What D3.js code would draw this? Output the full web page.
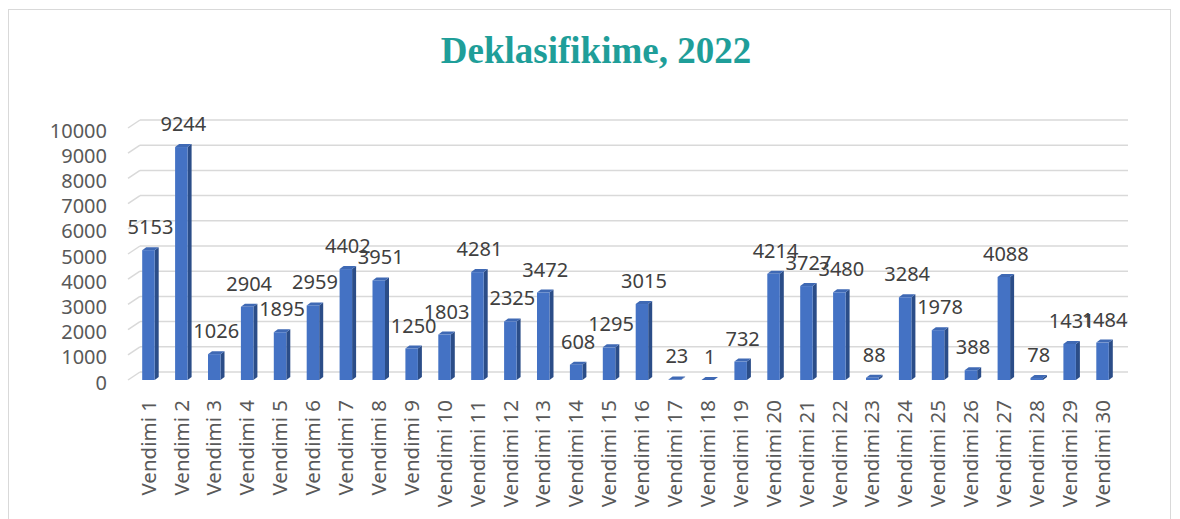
<!DOCTYPE html>
<html>
<head>
<meta charset="utf-8">
<script src="https://cdn.jsdelivr.net/npm/d3@7"></script>
<style>
  body { margin: 0; background: #fff; }
</style>
</head>
<body>
<div id="grafico"></div>
<script>
// Dados do grafico
const title = "Deklasifikime, 2022";
const categories = d3.range(1, 31).map(i => "Vendimi " + i);
const values = [5153, 9244, 1026, 2904, 1895, 2959, 4402, 3951, 1250, 1803,
                4281, 2325, 3472, 608, 1295, 3015, 23, 1, 732, 4214,
                3727, 3480, 88, 3284, 1978, 388, 4088, 78, 1431, 1484];
const yTicks = d3.range(0, 10001, 1000);

const width = 1180;
const height = 519;
const depth = { x: 12, y: 8 };     // profundidade da parede do fundo
const barDepth = { x: 4, y: 3 };   // profundidade das barras

const data = categories.map((c, i) => ({ cat: c, valor: values[i] }));

const svg = d3.select("#grafico")
              .append("svg")
              .attr("width", width)
              .attr("height", height);

// Borda da area do grafico
svg.append("rect")
   .attr("x", 8.5)
   .attr("y", 9.5)
   .attr("width", 1162)
   .attr("height", 530)
   .attr("fill", "none")
   .attr("stroke", "#d9d9d9")
   .attr("stroke-width", 1);

// Titulo
svg.append("text")
   .attr("x", 596)
   .attr("y", 63)
   .attr("text-anchor", "middle")
   .attr("font-family", "'Liberation Serif', 'Times New Roman', serif")
   .attr("font-weight", "bold")
   .attr("font-size", "37px")
   .attr("fill", "#1f9e99")
   .text(title);

// Escalas
const x = d3.scaleBand()
            .domain(categories)
            .range([132, 1119])
            .paddingInner(0.62)
            .paddingOuter(0.31);

const y = d3.scaleLinear()
            .domain([0, 10000])
            .range([380, 128]);

// Linhas de grade (parede do fundo + ligacao em perspectiva)
const grid = svg.append("g");
grid.selectAll("line.back")
    .data(yTicks)
    .enter()
    .append("line")
    .attr("x1", 128 + depth.x)
    .attr("x2", 1128)
    .attr("y1", d => y(d) - depth.y)
    .attr("y2", d => y(d) - depth.y)
    .attr("stroke", "#d9d9d9")
    .attr("stroke-width", 1.5);
grid.selectAll("line.stub")
    .data(yTicks)
    .enter()
    .append("line")
    .attr("x1", 128)
    .attr("x2", 128 + depth.x)
    .attr("y1", d => y(d))
    .attr("y2", d => y(d) - depth.y)
    .attr("stroke", "#d9d9d9")
    .attr("stroke-width", 1.5);

// Eixo y
const yAxis = svg.append("g")
                 .attr("transform", "translate(112, 0)")
                 .call(d3.axisLeft(y).tickValues(yTicks).tickFormat(d3.format("d")).tickSize(0).tickPadding(5));
yAxis.select(".domain").remove();
yAxis.selectAll("text")
     .attr("font-family", "'Noto Sans', 'Open Sans', sans-serif")
     .attr("font-size", "20px")
     .attr("fill", "#595959")
     .attr("dy", "0.45em");

// Eixo x
const xAxis = svg.append("g")
                 .attr("transform", "translate(0, 400)")
                 .call(d3.axisBottom(x).tickSize(0));
xAxis.select(".domain").remove();
xAxis.selectAll("text")
     .attr("font-family", "'Noto Sans', 'Open Sans', sans-serif")
     .attr("font-size", "20.5px")
     .attr("fill", "#595959")
     .attr("text-anchor", "end")
     .attr("transform", "rotate(-90)")
     .attr("x", 0)
     .attr("y", 0)
     .attr("dx", 0)
     .attr("dy", "0.35em");

// Barras 3D
const bars = svg.append("g")
                .selectAll("g")
                .data(data)
                .enter()
                .append("g");

const bw = x.bandwidth();

// face lateral
bars.append("path")
    .attr("d", d => {
        const x0 = x(d.cat) + bw, yt = y(d.valor), yb = y(0);
        return `M${x0},${yt}L${x0 + barDepth.x},${yt - barDepth.y}L${x0 + barDepth.x},${yb - barDepth.y}L${x0},${yb}Z`;
    })
    .attr("fill", "#2b4d88");

// face de cima
bars.append("path")
    .attr("d", d => {
        const x0 = x(d.cat), yt = y(d.valor);
        return `M${x0},${yt}L${x0 + bw},${yt}L${x0 + bw + barDepth.x},${yt - barDepth.y}L${x0 + barDepth.x},${yt - barDepth.y}Z`;
    })
    .attr("fill", "#3f69b4");

// face da frente
bars.append("rect")
    .attr("x", d => x(d.cat))
    .attr("y", d => y(d.valor))
    .attr("width", bw)
    .attr("height", d => y(0) - y(d.valor))
    .attr("fill", "#4472c4");

// Rotulos dos valores
svg.append("g")
   .selectAll("text")
   .data(data)
   .enter()
   .append("text")
   .attr("x", d => x(d.cat) + bw / 2 + 2)
   .attr("y", d => y(d.valor) - 16)
   .attr("text-anchor", "middle")
   .attr("font-family", "'Noto Sans', 'Open Sans', sans-serif")
   .attr("font-size", "20px")
   .attr("fill", "#404040")
   .text(d => d.valor);
</script>
</body>
</html>
